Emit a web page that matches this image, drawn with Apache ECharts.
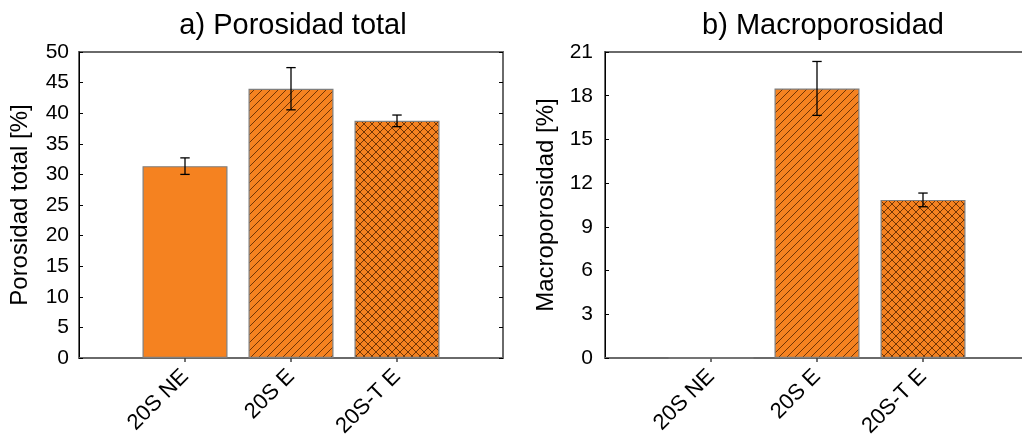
<!DOCTYPE html>
<html>
<head>
<meta charset="utf-8">
<script src="https://cdn.jsdelivr.net/npm/echarts@6/dist/echarts.min.js"></script>
<style>
  html, body { margin: 0; padding: 0; background: #fff; }
  #chart { width: 1022px; height: 435px; }
</style>
</head>
<body>
<div id="chart"></div>
<script>
// ---- data ----
var categories = ['20S NE', '20S E', '20S-T E'];
var totalValues = [31.35, 44.0, 38.75];
var totalErrors = [1.35, 3.45, 0.95];
var macroValues = [0, 18.5, 10.85];
var macroErrors = [0, 1.85, 0.47];
var titles = ['a) Porosidad total', 'b) Macroporosidad'];
var yNames = ['Porosidad total [%]', 'Macroporosidad [%]'];
var yMax = [50, 21];
var yInterval = [5, 3];

// ---- styles ----
var FONT = 'Liberation Sans, Arial, sans-serif';
var ORANGE = '#F58220';

function makePattern(kind) {
  var s = 8;
  var c = document.createElement('canvas');
  c.width = s; c.height = s;
  var g = c.getContext('2d');
  g.fillStyle = ORANGE;
  g.fillRect(0, 0, s, s);
  g.strokeStyle = 'rgba(90,40,0,0.85)';
  g.lineWidth = 1;
  g.beginPath();
  g.moveTo(-1, s + 1); g.lineTo(s + 1, -1);
  g.moveTo(-1, 1); g.lineTo(1, -1);
  g.moveTo(s - 1, s + 1); g.lineTo(s + 1, s - 1);
  if (kind === 'cross') {
    g.moveTo(-1, -1); g.lineTo(s + 1, s + 1);
    g.moveTo(s - 1, -1); g.lineTo(s + 1, 1);
    g.moveTo(-1, s - 1); g.lineTo(1, s + 1);
  }
  g.stroke();
  return { image: c, repeat: 'repeat' };
}
var fills = [ORANGE, makePattern('hatch'), makePattern('cross')];

var axisCats = [''].concat(categories).concat(['']);
var inner = function (i) { return i >= 1 && i <= categories.length; };

function barData(vals) {
  var d = [null];
  vals.forEach(function (v, i) {
    d.push({ value: v, itemStyle: { color: fills[i] } });
  });
  d.push(null);
  return d;
}
function errData(vals, errs) {
  var d = [];
  vals.forEach(function (v, i) {
    if (errs[i] > 0) d.push([i + 1, v - errs[i], v + errs[i]]);
  });
  return d;
}

var grids = [
  { left: 79, top: 52, width: 424, height: 306 },
  { left: 605, top: 52, width: 424, height: 306 }
];
var centers = [288, 818];

var option = {
  animation: false,
  backgroundColor: '#fff',
  title: titles.map(function (t, k) {
    return {
      text: t, left: centers[k], top: 6, textAlign: 'center',
      textStyle: { fontFamily: FONT, fontSize: 29, fontWeight: 'normal', color: '#000' }
    };
  }),
  grid: grids.map(function (g) {
    return Object.assign({ show: true, borderColor: '#6a6a6a', borderWidth: 2, containLabel: false, outerBoundsMode: 'none' }, g);
  }),
  xAxis: [0, 1].map(function (k) {
    return {
      type: 'category', gridIndex: k, data: axisCats, boundaryGap: false,
      axisLine: { show: true, lineStyle: { color: '#6a6a6a', width: 2 } },
      axisTick: { show: true, length: 4, interval: function (i) { return inner(i); }, lineStyle: { color: '#444', width: 1.5 } },
      axisLabel: {
        interval: function (i) { return inner(i); },
        rotate: 45, margin: 15, fontFamily: FONT, fontSize: 22, color: '#000'
      },
      splitLine: { show: false }
    };
  }),
  yAxis: [],
  series: []
};

[0, 1].forEach(function (k) {
  option.yAxis.push({
    type: 'value', gridIndex: k, min: 0, max: yMax[k], interval: yInterval[k],
    name: yNames[k], nameLocation: 'middle', nameGap: 47, nameRotate: 90,
    nameTextStyle: { fontFamily: FONT, fontSize: 24, color: '#000' },
    axisLine: { show: true, lineStyle: { color: '#000', width: 1 } },
    axisTick: { show: true, inside: true, length: 4, lineStyle: { color: '#000', width: 1 } },
    axisLabel: { margin: k === 0 ? 10 : 12, fontFamily: FONT, fontSize: 21, color: '#000' },
    splitLine: { show: false }
  });
  option.yAxis.push({
    type: 'value', gridIndex: k, position: 'right', min: 0, max: yMax[k], interval: yInterval[k],
    axisLine: { show: false },
    axisTick: { show: true, inside: true, length: 4, lineStyle: { color: '#000', width: 1 } },
    axisLabel: { show: false },
    splitLine: { show: false }
  });
});

var seriesVals = [totalValues, macroValues];
var seriesErrs = [totalErrors, macroErrors];
[0, 1].forEach(function (k) {
  option.series.push({
    type: 'bar', xAxisIndex: k, yAxisIndex: k * 2,
    data: barData(seriesVals[k]), barWidth: 85,
    itemStyle: { borderColor: '#7f7f7f', borderWidth: 1.2 },
    z: 2
  });
  option.series.push({
    type: 'custom', xAxisIndex: k, yAxisIndex: k * 2,
    data: errData(seriesVals[k], seriesErrs[k]),
    encode: { x: 0, y: [1, 2] },
    z: 5,
    renderItem: function (params, api) {
      var x = api.value(0);
      var lo = api.coord([x, api.value(1)]);
      var hi = api.coord([x, api.value(2)]);
      var hw = 4.7;
      var st = { stroke: '#000', lineWidth: 1.3 };
      return {
        type: 'group',
        children: [
          { type: 'line', shape: { x1: hi[0], y1: hi[1], x2: lo[0], y2: lo[1] }, style: st },
          { type: 'line', shape: { x1: hi[0] - hw, y1: hi[1], x2: hi[0] + hw, y2: hi[1] }, style: st },
          { type: 'line', shape: { x1: lo[0] - hw, y1: lo[1], x2: lo[0] + hw, y2: lo[1] }, style: st }
        ]
      };
    }
  });
});

var chart = echarts.init(document.getElementById('chart'), null, { renderer: 'canvas' });
chart.setOption(option);
</script>
</body>
</html>
